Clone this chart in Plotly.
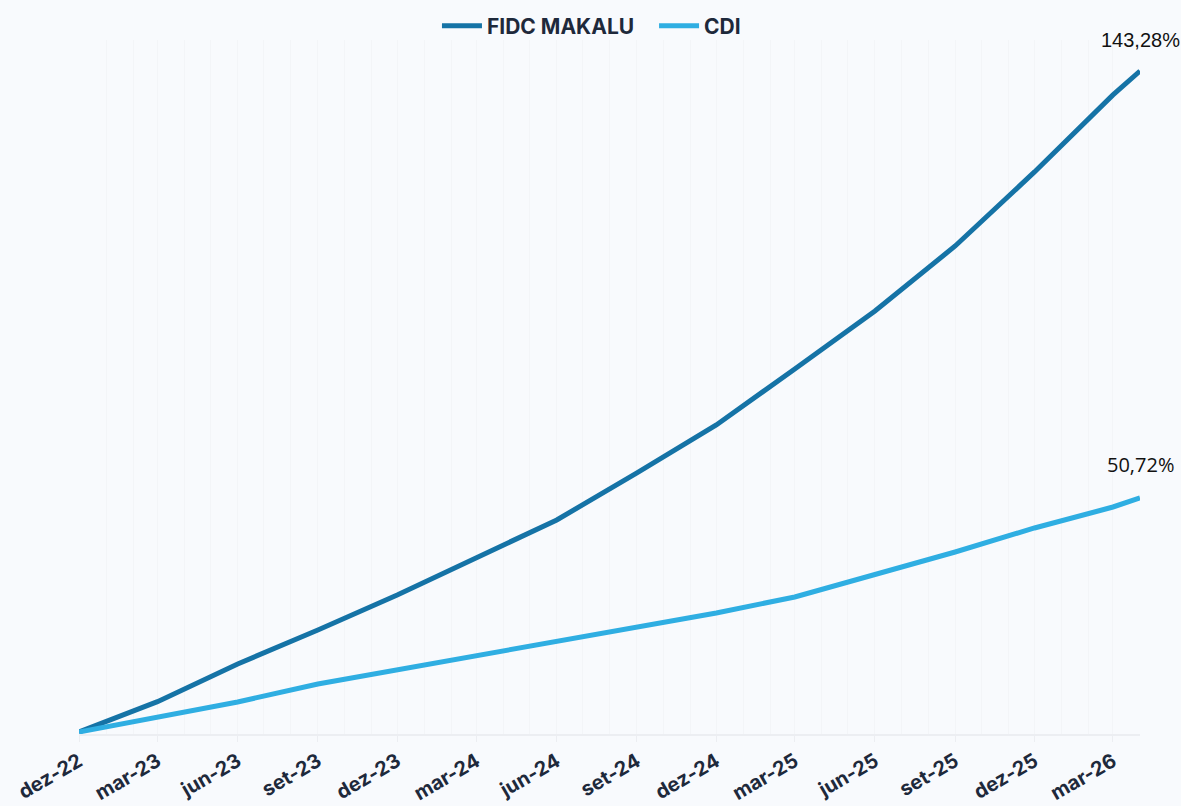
import plotly.graph_objects as go

# Data (cumulative return, %)
dates = ["2022-12-01", "2023-03-01", "2023-06-01", "2023-09-01", "2023-12-01",
         "2024-03-01", "2024-06-01", "2024-09-01", "2024-12-01", "2025-03-01",
         "2025-06-01", "2025-09-01", "2025-12-01", "2026-03-01", "2026-04-01"]
fidc_makalu = [0.0, 6.57, 14.74, 22.11, 29.70, 37.72, 45.96, 56.15, 66.55, 78.69,
               91.27, 105.35, 121.4, 138.1, 143.28]
cdi = [0.0, 3.25, 6.50, 10.41, 13.44, 16.48, 19.51, 22.54, 25.80, 29.26,
       34.03, 39.02, 44.22, 48.77, 50.72]

tick_vals = ["2022-12-01", "2023-03-01", "2023-06-01", "2023-09-01", "2023-12-01",
             "2024-03-01", "2024-06-01", "2024-09-01", "2024-12-01", "2025-03-01",
             "2025-06-01", "2025-09-01", "2025-12-01", "2026-03-01"]
tick_text = ["dez-22", "mar-23", "jun-23", "set-23", "dez-23", "mar-24", "jun-24",
             "set-24", "dez-24", "mar-25", "jun-25", "set-25", "dez-25", "mar-26"]

series_names = ["FIDC MAKALU", "CDI"]
end_labels = ["143,28%", "50,72%"]

DARK = "#1573A6"
LIGHT = "#2FAEE2"
BG = "#F8FAFD"
TXT = "#1E293B"

fig = go.Figure()
fig.add_trace(go.Scatter(x=dates, y=fidc_makalu, mode="lines",
                         name=series_names[0] + "\u00a0\u00a0\u00a0",
                         line=dict(color=DARK, width=5)))
fig.add_trace(go.Scatter(x=dates, y=cdi, mode="lines", name=series_names[1],
                         line=dict(color=LIGHT, width=5)))

fig.add_annotation(x=dates[-1], y=fidc_makalu[-1], text=end_labels[0], showarrow=False,
                   yanchor="bottom", yshift=18,
                   font=dict(family="Liberation Sans, Arial", size=20, color="#111111"))
fig.add_annotation(x=dates[-1], y=cdi[-1], text=end_labels[1], showarrow=False,
                   yanchor="bottom", yshift=18,
                   font=dict(family="Open Sans", size=20, color="#111111"))

fig.update_layout(
    width=1181, height=806,
    paper_bgcolor=BG, plot_bgcolor=BG,
    margin=dict(l=79, r=41, t=40, b=72, autoexpand=False),
    font=dict(family="Inter, Roboto, sans-serif", color=TXT),
    showlegend=True,
    legend=dict(orientation="h", x=0.483, xanchor="center", y=1.02, yanchor="middle",
                font=dict(size=21, color=TXT, weight="bold"),
                bgcolor="rgba(0,0,0,0)", itemwidth=40),
    xaxis=dict(
        type="date",
        range=["2022-12-01", "2026-04-01"],
        automargin=False,
        tickvals=tick_vals, ticktext=tick_text, tickangle=-30,
        tickfont=dict(size=20, color=TXT, weight="bold"),
        ticks="outside", ticklen=6, tickcolor="#ECEEF2",
        showline=True, linecolor="#ECEEF2", linewidth=2,
        showgrid=False, zeroline=False,
        minor=dict(dtick="M1", tick0="2022-12-01", showgrid=True,
                   gridcolor="#F3F5F8", gridwidth=1),
    ),
    yaxis=dict(range=[-0.44, 150.0], visible=False, showgrid=False, zeroline=False,
               automargin=False),
)

fig.write_html(
    "out.html",
    config={"displayModeBar": False},
    post_script="document.body.style.margin='0';document.body.style.background='#F8FAFD';",
)
